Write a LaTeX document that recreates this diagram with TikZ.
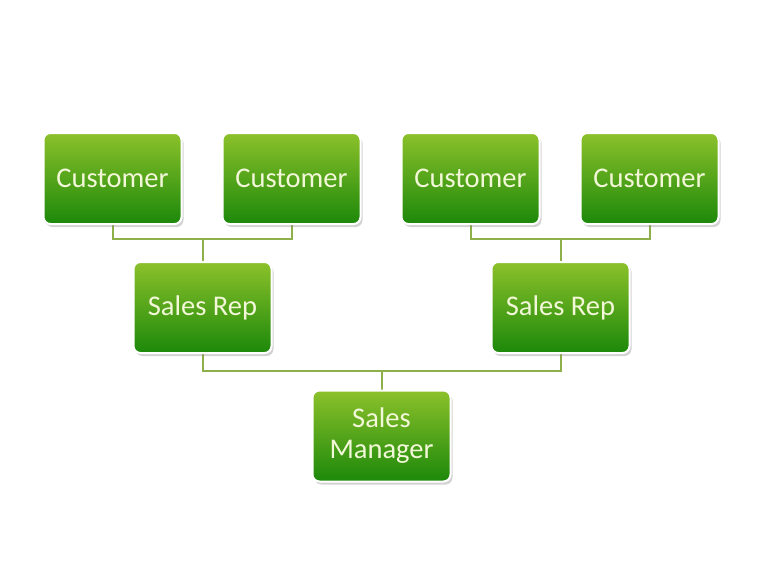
\documentclass[tikz,border=0pt]{standalone}
\usepackage{fontspec}
\setmainfont{Carlito}
\usetikzlibrary{calc}
\usetikzlibrary{shadows}
\usetikzlibrary{positioning}
\pgfdeclarelayer{background}
\pgfsetlayers{background,main}
\definecolor{boxtop}{HTML}{8CC12B}
\definecolor{boxbottom}{HTML}{1C880A}
\definecolor{boxtext}{HTML}{F2F7D8}
\definecolor{linkline}{HTML}{8DB04A}

\begin{document}
\begin{tikzpicture}[x=1pt,y=-1pt,semithick]
  \tikzstyle{every node}=[font=\fontsize{28.5}{31}\selectfont]
  \tikzstyle{person}=[rectangle,rounded corners=7pt,draw=white,line width=2pt,
    top color=boxtop,bottom color=boxbottom,text=boxtext,align=center,
    minimum width=138pt,minimum height=91pt,
    drop shadow={shadow xshift=2pt,shadow yshift=-3pt,opacity=0.35}]
  \tikzstyle{link}=[draw=linkline,line width=2pt]
  \useasboundingbox (0,0) rectangle (763,573);

  \node[person] (C1) at (112.5,178.5) {Customer};
  \node[person] (C2) at (291.5,178.5) {Customer};
  \node[person] (C3) at (470.5,178.5) {Customer};
  \node[person] (C4) at (649.5,178.5) {Customer};
  \node[person] (R1) at (202.5,307.5) {Sales Rep};
  \node[person] (R2) at (560.5,307.5) {Sales Rep};
  \node[person] (M)  at (381.5,436)   {Sales\\ Manager};

  % connectors go behind the boxes
  \begin{pgfonlayer}{background}
  \coordinate (J1) at ($(R1.north)-(0,22)$);
  \coordinate (J2) at ($(R2.north)-(0,22)$);
  \coordinate (J3) at ($(M.north)-(0,19)$);
  \path[link] (C1.south) |- (J1) -| (C2.south)
              (J1) -- (R1.north)
              (C3.south) |- (J2) -| (C4.south)
              (J2) -- (R2.north)
              (R1.south) |- (J3) -| (R2.south)
              (J3) -- (M.north);
  \end{pgfonlayer}
\end{tikzpicture}
\end{document}
